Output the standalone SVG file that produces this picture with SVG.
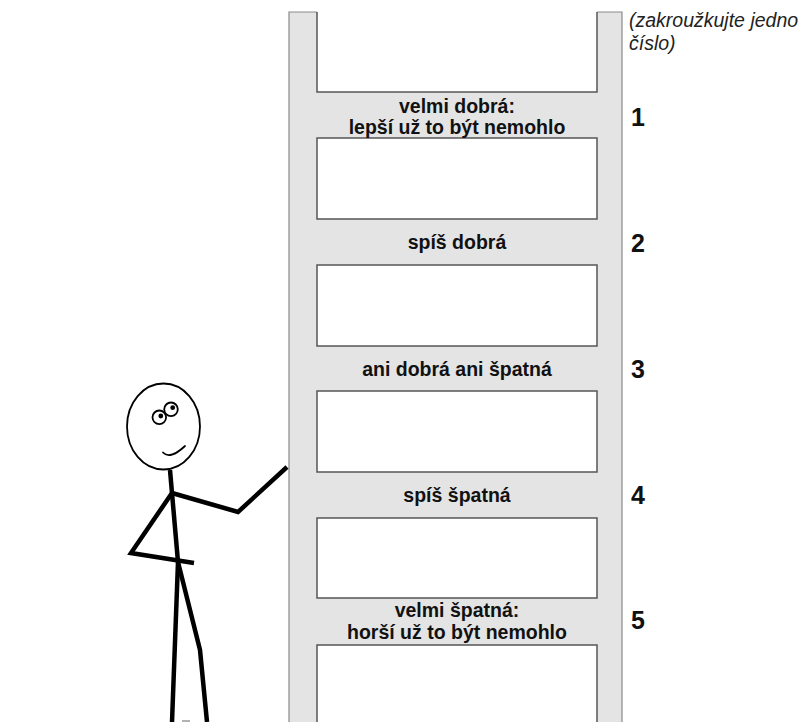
<svg xmlns="http://www.w3.org/2000/svg" width="805" height="722" viewBox="0 0 805 722">
  <style>
    .rail { fill: #e4e4e4; }
    .edge { stroke: #8a8a8a; stroke-width: 1.2; fill: none; }
    .box { fill: #ffffff; stroke: #555555; stroke-width: 1.5; }
    .label { font-family: "Liberation Sans", Arial, sans-serif; font-weight: bold; font-size: 19.5px; fill: #111111; text-anchor: middle; }
    .num { font-family: "Liberation Sans", Arial, sans-serif; font-weight: bold; font-size: 25px; fill: #111111; }
    .note { font-family: "Liberation Sans", Arial, sans-serif; font-style: italic; font-size: 19.5px; fill: #222222; }
    .thin { fill: none; stroke: #000000; stroke-width: 1.8; stroke-linecap: round; }
    .limb { fill: none; stroke: #000000; stroke-width: 4.5; stroke-linecap: butt; stroke-linejoin: miter; }
  </style>

  <rect width="805" height="722" fill="#ffffff"/>

  <!-- ladder: grey frame with white openings between the rungs -->
  <g id="ladder">
    <rect class="rail" x="289" y="12" width="333" height="712"/>
    <path class="edge" d="M289,722 V12 H317 M597,12 H622 V722"/>
    <path class="box" d="M317,12 V92 H597 V12"/>
    <rect class="box" x="317" y="138" width="280" height="81"/>
    <rect class="box" x="317" y="265" width="280" height="81"/>
    <rect class="box" x="317" y="391" width="280" height="81"/>
    <rect class="box" x="317" y="518" width="280" height="80"/>
    <rect class="box" x="317" y="645" width="280" height="85"/>
  </g>

  <!-- rung labels -->
  <g id="rung1">
    <text class="label" x="457" y="113">velmi dobrá:</text>
    <text class="label" x="457" y="134">lepší už to být nemohlo</text>
  </g>
  <g id="rung2">
    <text class="label" x="457" y="249">spíš dobrá</text>
  </g>
  <g id="rung3">
    <text class="label" x="457" y="376">ani dobrá ani špatná</text>
  </g>
  <g id="rung4">
    <text class="label" x="457" y="502">spíš špatná</text>
  </g>
  <g id="rung5">
    <text class="label" x="457" y="617">velmi špatná:</text>
    <text class="label" x="457" y="639">horší už to být nemohlo</text>
  </g>

  <!-- scale numbers -->
  <g id="numbers">
    <text class="num" x="631" y="126">1</text>
    <text class="num" x="631" y="252">2</text>
    <text class="num" x="631" y="378">3</text>
    <text class="num" x="631" y="504">4</text>
    <text class="num" x="631" y="629">5</text>
  </g>

  <g id="instruction">
    <text class="note" x="629" y="27">(zakroužkujte jedno</text>
    <text class="note" x="629" y="50">číslo)</text>
  </g>

  <!-- stick figure leaning on the ladder -->
  <g id="figure">
    <ellipse class="thin" cx="163.5" cy="426.5" rx="36.5" ry="43"/>
    <circle class="thin" cx="159.3" cy="417.3" r="6.8" stroke-width="1.6"/>
    <circle class="thin" cx="171" cy="409.3" r="6.8" stroke-width="1.6"/>
    <circle cx="160.8" cy="416" r="2.4" fill="#000"/>
    <circle cx="172.7" cy="407.7" r="2.4" fill="#000"/>
    <path class="thin" d="M163,452.5 Q170,460 185,446"/>
    <path class="limb" d="M170,470 L178,562"/>
    <path class="limb" d="M172,493 L238,512 L287,467"/>
    <path class="limb" d="M172,493 L131,553 L194,563"/>
    <path class="limb" d="M178,562 L172,722"/>
    <path class="limb" d="M178,562 L200,650 L207,722"/>
    <path d="M182,721 H190" stroke="#999" stroke-width="1.5"/>
  </g>
</svg>
